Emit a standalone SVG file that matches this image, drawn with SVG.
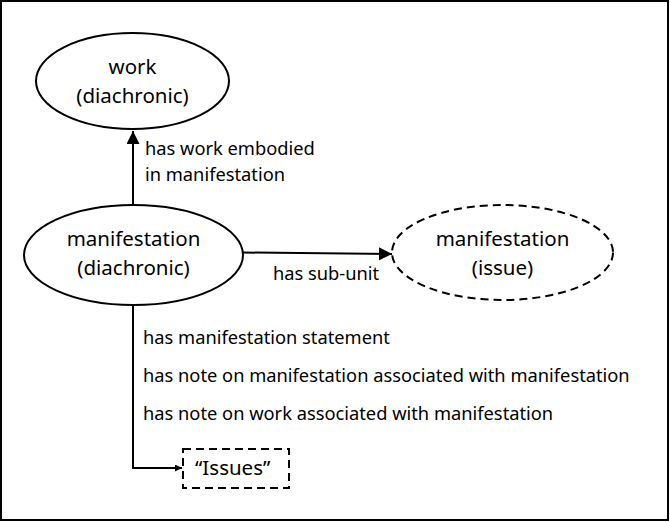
<svg xmlns="http://www.w3.org/2000/svg" width="670" height="522" viewBox="0 0 670 522">
<style>
.node{fill:#fff;stroke:#000;stroke-width:2}
.dash{stroke-dasharray:8 5}
.nt{font-family:"Noto Sans","Open Sans",sans-serif;font-size:20.5px;fill:#000;text-anchor:middle}
.lt{font-family:"Noto Sans","Open Sans",sans-serif;font-size:18.3px;fill:#000}
.edge{fill:none;stroke:#000;stroke-width:2}
</style>
<defs>
<marker id="ah" viewBox="0 0 10 10" refX="10" refY="5" markerWidth="6.5" markerHeight="6.5" markerUnits="strokeWidth" orient="auto"><path d="M0,0L10,5L0,10Z" fill="#000"/></marker>
<marker id="ahs" viewBox="0 0 10 10" refX="10" refY="5" markerWidth="3.5" markerHeight="3.5" markerUnits="strokeWidth" orient="auto"><path d="M0,0L10,5L0,10Z" fill="#000"/></marker>
</defs>
<rect x="1" y="1" width="667" height="519" fill="#fff" stroke="#000" stroke-width="2"/>
<g id="connectors">
<path class="edge" d="M133,205L133,131" marker-end="url(#ah)"/>
<path class="edge" d="M243,252.5L392,254" marker-end="url(#ah)"/>
<path class="edge" d="M133,305L133,468L182,468" marker-end="url(#ahs)"/>
<text class="lt" x="145" y="155">has work embodied</text>
<text class="lt" x="145" y="181">in manifestation</text>
<text class="lt" x="273" y="280">has sub-unit</text>
<text class="lt" x="143" y="344">has manifestation statement</text>
<text class="lt" x="143" y="382">has note on manifestation associated with manifestation</text>
<text class="lt" x="143" y="420">has note on work associated with manifestation</text>
</g>
<g id="work">
<ellipse class="node" cx="132.5" cy="81" rx="96.5" ry="48"/>
<text class="nt" x="132.5" y="74">work</text>
<text class="nt" x="132.5" y="103">(diachronic)</text>
</g>
<g id="manifestation">
<ellipse class="node" cx="133.5" cy="255" rx="109.5" ry="50"/>
<text class="nt" x="133.5" y="246">manifestation</text>
<text class="nt" x="133.5" y="275">(diachronic)</text>
</g>
<g id="issue">
<ellipse class="node dash" cx="502.5" cy="252.5" rx="110.5" ry="47.5"/>
<text class="nt" x="502.5" y="246">manifestation</text>
<text class="nt" x="502.5" y="275">(issue)</text>
</g>
<g id="issues">
<rect class="node dash" x="183" y="449" width="106" height="39"/>
<text class="lt" x="195" y="475" style="font-size:20.5px">“Issues”</text>
</g>
</svg>
